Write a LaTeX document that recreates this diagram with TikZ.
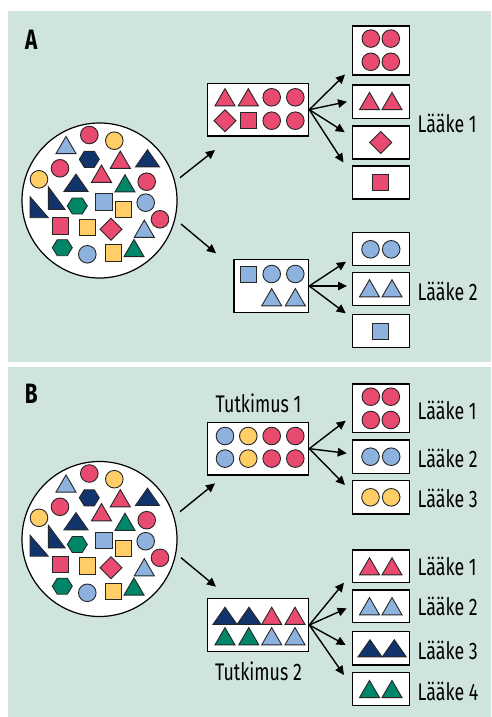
\documentclass[tikz,border=0pt]{standalone}
\usepackage{fontspec}
\setmainfont{Fira Sans}[FakeStretch=0.74]
\usetikzlibrary{arrows.meta}
\definecolor{bg}{RGB}{207,228,223}
\definecolor{pk}{RGB}{233,74,112}
\definecolor{yl}{RGB}{255,206,102}
\definecolor{lb}{RGB}{142,178,222}
\definecolor{nv}{RGB}{18,52,108}
\definecolor{gn}{RGB}{0,135,105}
\tikzset{
  shp/.style={line width=0.9pt, draw=black!85},
  bx/.style={draw=black, fill=white, line width=1.2pt, inner sep=0pt, minimum width=57pt},
  big/.style={draw=black, fill=white, line width=1.2pt, inner sep=0pt},
  pool/.style={circle, draw=black, fill=white, line width=1.2pt, inner sep=0pt, minimum size=155pt},
  arr/.style={line width=1.4pt, -{Triangle[length=9pt,width=8.5pt]}},
  lbl/.style={anchor=west, inner sep=0pt, font=\fontsize{24}{24}\selectfont},
  ttl/.style={inner sep=0pt, font=\fontsize{24}{24}\selectfont},
  pan/.style={inner sep=0pt, font=\fontsize{28}{28}\selectfont\bfseries}
}
\newcommand\shC[2]{\draw[shp,fill=#2] (#1) circle[radius=8.8pt];}
\newcommand\shT[2]{\draw[shp,fill=#2] (#1) ++(-10,8.6) -- ++(20,0) -- ++(-10,-17.2) -- cycle;}
\newcommand\shW[2]{\draw[shp,fill=#2] (#1) ++(-12,8.6) -- ++(24,0) -- ++(-12,-17.2) -- cycle;}
\newcommand\shS[2]{\draw[shp,fill=#2] (#1) ++(-8.2,-8.2) rectangle ++(16.4,16.4);}
\newcommand\shD[2]{\draw[shp,fill=#2] (#1) ++(-11,0) -- ++(11,-11) -- ++(11,11) -- ++(-11,11) -- cycle;}
\newcommand\shH[2]{\draw[shp,fill=#2] (#1) ++(-10,0) -- ++(5,-8) -- ++(10,0) -- ++(5,8) -- ++(-5,8) -- ++(-10,0) -- cycle;}
\newcommand\crowd{%
  \shT{66,145}{lb}
  \shC{89.3,135}{pk}
  \shC{114.3,140.7}{yl}
  \shH{89.3,159.3}{nv}
  \shT{120.3,159.7}{pk}
  \shW{147.5,158.3}{nv}
  \shC{60,168.3}{pk}
  \shC{39,179.3}{yl}
  \shT{101.5,173.7}{pk}
  \shW{76,182.7}{nv}
  \shT{125,183.3}{gn}
  \shC{146.7,181.7}{pk}
  \draw[shp,fill=nv] (30,196.7) -- (30,217.7) -- (48.3,217.7) -- cycle;
  \draw[shp,fill=nv] (48.3,186.7) -- (48.3,209.3) -- (65,209.3) -- cycle;
  \shH{77.3,206}{gn}
  \shS{104,202}{lb}
  \shS{123.7,209.7}{yl}
  \shC{145.7,202.7}{lb}
  \shC{160,219.3}{pk}
  \shS{60.7,226}{pk}
  \shS{87.3,227.3}{yl}
  \shD{111,229.3}{pk}
  \shT{144.3,228.7}{lb}
  \shH{62.3,247.7}{gn}
  \shC{87.3,254.3}{lb}
  \shS{113.3,253}{yl}
  \shT{134,248}{gn}
}
\begin{document}
\begin{tikzpicture}[x=1pt,y=-1pt]
\fill[white] (0,0) rectangle (491,717);
\useasboundingbox (0,0) rectangle (491,717);
\fill[bg] (8,11) rectangle (491,361.7);
\fill[bg] (8,366.7) rectangle (491,717);

% ---------------- Panel A ----------------
\node[pan] (labA) at (31.3,39.7) {A};
\node[pool] (cA) at (99.5,200.5) {};
\crowd

\node[big, minimum width=101.4pt, minimum height=52.7pt] (bA1) at (258,109.65) {};
\shT{225,97.2}{pk} \shT{248.3,97.2}{pk} \shC{271.7,97.3}{pk} \shC{295.3,97.3}{pk}
\shD{225,120.7}{pk} \shS{248.7,120.3}{pk} \shC{271.7,120.7}{pk} \shC{295.3,120.7}{pk}

\node[big, minimum width=74.7pt, minimum height=53.4pt] (bA2) at (271.35,286) {};
\shS{248.7,274.7}{lb} \shC{271.7,274}{lb} \shC{295.3,274}{lb}
\shT{271.7,297.2}{lb} \shT{295.3,297.2}{lb}

\node[bx, minimum height=49pt] (oA1) at (380.8,50.5) {};
\shC{370.8,38.6}{pk} \shC{390.8,38.6}{pk} \shC{370.8,61.8}{pk} \shC{390.8,61.8}{pk}
\node[bx, minimum height=33.3pt] (oA2) at (380.8,101.65) {};
\shT{369.5,101}{pk} \shT{392,101}{pk}
\node[bx, minimum height=33pt] (oA3) at (380.8,142.5) {};
\shD{380.8,142.5}{pk}
\node[bx, minimum height=33pt] (oA4) at (380.8,182.5) {};
\shS{380.6,182.2}{pk}
\node[bx, minimum height=33pt] (oA5) at (380.8,249.2) {};
\shC{370.5,249.3}{lb} \shC{391.2,249.3}{lb}
\node[bx, minimum height=33pt] (oA6) at (380.8,288.85) {};
\shT{369.5,288.3}{lb} \shT{392,288.3}{lb}
\node[bx, minimum height=33.4pt] (oA7) at (380.8,331) {};
\shS{380.4,331.2}{lb}

\node[lbl] (lA1) at (417.5,123.3) {Lääke 1};
\node[lbl] (lA2) at (417.5,291.7) {Lääke 2};

\coordinate (sA1) at (180,177.7); \coordinate (tA1) at (215,150);
\coordinate (sA2) at (181,224);   \coordinate (tA2) at (216,253.3);
\draw[arr] (sA1) -- (tA1);
\draw[arr] (sA2) -- (tA2);

\coordinate (fA1) at (345,74.5);
\coordinate (fA2) at (347,101.7);
\coordinate (fA3) at (344.8,132.2);
\coordinate (fA4) at (343.5,162.5);
\foreach \t in {fA1,fA2,fA3,fA4} \draw[arr] (bA1.east) -- (\t);
\coordinate (fA5) at (346,261.7);
\coordinate (fA6) at (347,286);
\coordinate (fA7) at (345.7,313.3);
\foreach \t in {fA5,fA6,fA7} \draw[arr] (bA2.east) -- (\t);

% ---------------- Panel B ----------------
\node[pan] (labB) at (31.3,394) {B};
\node[pool] (cB) at (99.5,539) {};
\begin{scope}[shift={(0,338.5)}]
\crowd
\end{scope}

\node[ttl] (tt1) at (258.5,403.5) {Tutkimus 1};
\node[big, minimum width=101.4pt, minimum height=52.7pt] (bB1) at (258,448.65) {};
\shC{225,436}{lb} \shC{248.3,436}{yl} \shC{271.7,436}{pk} \shC{295.3,436}{pk}
\shC{225,458.6}{lb} \shC{248.3,458.6}{yl} \shC{271.7,458.6}{pk} \shC{295.3,458.6}{pk}

\node[big, minimum width=101.4pt, minimum height=53.4pt] (bB2) at (258,625) {};
\shW{225,615.8}{nv} \shW{249,615.8}{nv} \shT{271.7,615.8}{pk} \shT{295,615.8}{pk}
\shT{225,636.2}{gn} \shT{248.8,636.2}{gn} \shT{271.7,636.2}{lb} \shT{295,636.2}{lb}
\node[ttl] (tt2) at (258.5,671.7) {Tutkimus 2};

\node[bx, minimum height=48.3pt] (oB1) at (380.8,408.15) {};
\shC{370.8,396.7}{pk} \shC{390.8,396.7}{pk} \shC{370.8,420}{pk} \shC{390.8,420}{pk}
\node[bx, minimum height=33.3pt] (oB2) at (380.8,456.65) {};
\shC{370.5,456.7}{lb} \shC{391.2,456.7}{lb}
\node[bx, minimum height=33.3pt] (oB3) at (380.8,497.35) {};
\shC{370.5,497.3}{yl} \shC{391.2,497.3}{yl}
\node[bx, minimum height=32.7pt] (oB4) at (380.8,566.35) {};
\shT{369.5,566.3}{pk} \shT{392,566.3}{pk}
\node[bx, minimum height=32.3pt] (oB5) at (380.8,606.15) {};
\shT{369.5,606.2}{lb} \shT{392,606.2}{lb}
\node[bx, minimum height=33.3pt] (oB6) at (380.8,648.35) {};
\shW{370,648.3}{nv} \shW{394.3,648.3}{nv}
\node[bx, minimum height=33.4pt] (oB7) at (380.8,689) {};
\shT{369.5,689}{gn} \shT{392,689}{gn}

\node[lbl] (lB1) at (417.5,410) {Lääke 1};
\node[lbl] (lB2) at (417.5,458.3) {Lääke 2};
\node[lbl] (lB3) at (417.5,498.3) {Lääke 3};
\node[lbl] (lB4) at (417.5,566.7) {Lääke 1};
\node[lbl] (lB5) at (417.5,606.7) {Lääke 2};
\node[lbl] (lB6) at (417.5,650) {Lääke 3};
\node[lbl] (lB7) at (417.5,691.7) {Lääke 4};

\coordinate (sB1) at (180,511.7); \coordinate (tB1) at (215,483.3);
\coordinate (sB2) at (181,557.7); \coordinate (tB2) at (216,586.7);
\draw[arr] (sB1) -- (tB1);
\draw[arr] (sB2) -- (tB2);

\coordinate (fB1) at (345.7,420.7);
\coordinate (fB2) at (346.7,453.3);
\coordinate (fB3) at (345,485);
\foreach \t in {fB1,fB2,fB3} \draw[arr] (bB1.east) -- (\t);
\coordinate (fB4) at (344,582.7);
\coordinate (fB5) at (346.7,608.3);
\coordinate (fB6) at (345.7,645);
\coordinate (fB7) at (344,675);
\foreach \t in {fB4,fB5,fB6,fB7} \draw[arr] (bB2.east) -- (\t);
\end{tikzpicture}
\end{document}
